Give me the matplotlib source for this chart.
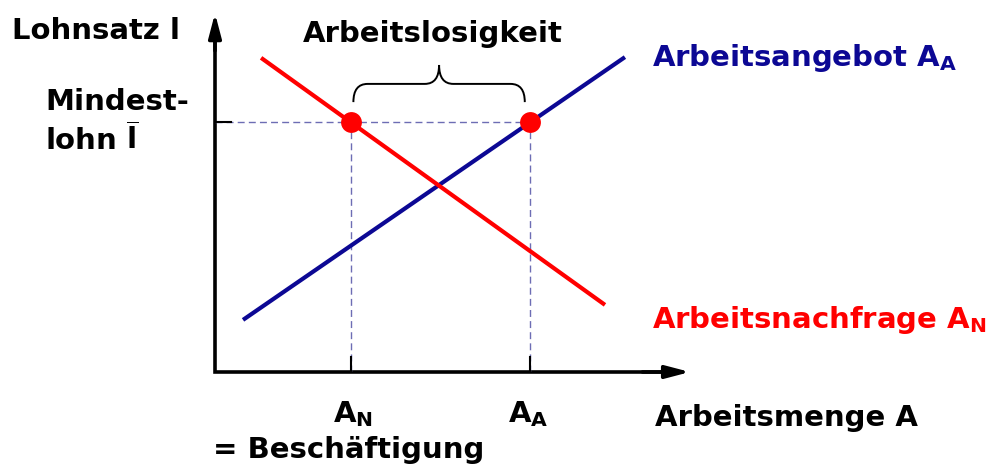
import matplotlib
matplotlib.use('Agg')
import matplotlib.pyplot as plt
from matplotlib.path import Path
from matplotlib.patches import PathPatch

# Arbeitsmenge (x) und Lohnsatz (y), beliebige Einheiten 0..100
supply_x = [5.9, 86.3]
supply_y = [14.6, 88.2]
demand_x = [9.7, 82.1]
demand_y = [88.0, 18.8]
min_wage = 70.0

BLUE = '#0c0894'
RED = '#ff0000'
GUIDE = '#6d6db4'

plt.rcParams['font.family'] = 'DejaVu Sans'
plt.rcParams['font.weight'] = 'bold'
plt.rcParams['mathtext.fontset'] = 'custom'
plt.rcParams['mathtext.rm'] = 'DejaVu Sans:bold'
plt.rcParams['mathtext.it'] = 'DejaVu Sans:bold'
plt.rcParams['mathtext.bf'] = 'DejaVu Sans:bold'

W, H = 1000, 472


def at(x, y):
    """Pixel position -> figure fraction (for the labels)."""
    return x / W, 1 - y / H


def x_at(xs, ys, y):
    """x of a straight line through (xs, ys) at height y."""
    return xs[0] + (y - ys[0]) * (xs[1] - xs[0]) / (ys[1] - ys[0])


def brace(ax, x0, x1, yb, ym, yt, r=3.0):
    """Curly brace opening downwards, drawn in data coordinates."""
    xm = (x0 + x1) / 2
    verts = [(x0, yb), (x0, ym), (x0 + r, ym),
             (xm - r, ym),
             (xm, ym), (xm, yt),
             (xm, ym), (xm + r, ym),
             (x1 - r, ym),
             (x1, ym), (x1, yb)]
    codes = [Path.MOVETO, Path.CURVE3, Path.CURVE3,
             Path.LINETO,
             Path.CURVE3, Path.CURVE3,
             Path.CURVE3, Path.CURVE3,
             Path.LINETO,
             Path.CURVE3, Path.CURVE3]
    ax.add_patch(PathPatch(Path(verts, codes), fill=False, lw=1.4,
                           color='black', clip_on=False))


a_n = x_at(demand_x, demand_y, min_wage)
a_a = x_at(supply_x, supply_y, min_wage)

fig = plt.figure(figsize=(W / 100, H / 100), dpi=100)
ax = fig.add_axes([215 / W, (H - 372) / H, 475 / W, 357 / H])
ax.set_xlim(0, 100)
ax.set_ylim(0, 100)
ax.axis('off')

# axes: square corner plus arrow heads
ax.plot([0, 0, 95], [95, 0, 0], color='black', lw=2.6,
        solid_joinstyle='miter', solid_capstyle='butt', clip_on=False)
arrow = dict(arrowstyle='-|>,head_length=1.45,head_width=0.38', lw=2.6,
             color='black', shrinkA=0, shrinkB=0)
ax.annotate('', xy=(100, 0), xytext=(90, 0), arrowprops=arrow,
            annotation_clip=False)
ax.annotate('', xy=(0, 100.5), xytext=(0, 90), arrowprops=arrow,
            annotation_clip=False)

# guide lines for the minimum wage
ax.plot([0, a_a], [min_wage, min_wage], color=GUIDE, lw=1, ls=(0, (5, 3)))
ax.plot([a_n, a_n], [0, min_wage], color=GUIDE, lw=1, ls=(0, (5, 3)))
ax.plot([a_a, a_a], [0, min_wage], color=GUIDE, lw=1, ls=(0, (5, 3)))
ax.plot([0, 3.4], [min_wage, min_wage], color='black', lw=1.5)
ax.plot([a_n, a_n], [0, 4.3], color='black', lw=1.5)
ax.plot([a_a, a_a], [0, 4.3], color='black', lw=1.5)

# supply and demand
ax.plot(supply_x, supply_y, color=BLUE, lw=3, solid_capstyle='butt')
ax.plot(demand_x, demand_y, color=RED, lw=3, solid_capstyle='butt')
ax.plot([a_n, a_a], [min_wage, min_wage], 'o', color=RED, ms=15, mec='none',
        clip_on=False)

brace(ax, a_n + 0.6, a_a - 1.2, 75.6, 80.7, 86.0)

fs = 21
fig.text(*at(12, 39), 'Lohnsatz l', fontsize=fs, va='baseline')
fig.text(*at(303, 42), 'Arbeitslosigkeit', fontsize=fs, va='baseline')
fig.text(*at(45, 110), 'Mindest-', fontsize=fs, va='baseline')
fig.text(*at(45, 150), r'lohn $\overline{\mathrm{l}}$', fontsize=fs,
         va='baseline')
fig.text(*at(652, 66), r'Arbeitsangebot $\mathrm{A_A}$', fontsize=fs,
         va='baseline', color=BLUE)
fig.text(*at(652, 328), r'Arbeitsnachfrage $\mathrm{A_N}$', fontsize=fs,
         va='baseline', color=RED)
fig.text(*at(655, 426), 'Arbeitsmenge A', fontsize=fs, va='baseline')
fig.text(*at(333, 422), r'$\mathrm{A_N}$', fontsize=fs, va='baseline')
fig.text(*at(508, 422), r'$\mathrm{A_A}$', fontsize=fs, va='baseline')
fig.text(*at(213, 458), '= Beschäftigung', fontsize=fs, va='baseline')

fig.savefig('out.png', dpi=100)
plt.close(fig)
